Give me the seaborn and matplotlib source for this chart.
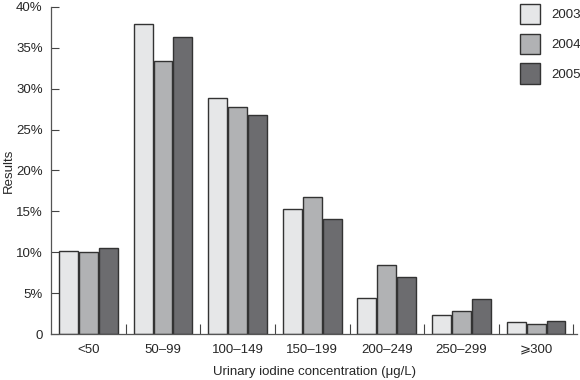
import pandas as pd
import numpy as np
import matplotlib
matplotlib.use("Agg")
import matplotlib.pyplot as plt
import seaborn as sns
from matplotlib.ticker import FixedLocator

# Data (percent of results)
groups = ['<50', '50–99', '100–149', '150–199', '200–249', '250–299', '⩾300']
years = ['2003', '2004', '2005']
vals_2003 = [10.15, 37.9, 28.9, 15.3, 4.4, 2.3, 1.5]
vals_2004 = [10.0, 33.4, 27.8, 16.8, 8.4, 2.8, 1.2]
vals_2005 = [10.5, 36.3, 26.8, 14.1, 7.0, 4.3, 1.6]
colors = ['#e6e7e8', '#b1b2b4', '#6b6c70']

df = pd.DataFrame({
    'group': groups * 3,
    'year': [y for y in years for _ in groups],
    'value': vals_2003 + vals_2004 + vals_2005,
})

sns.set_style("white")
plt.rcParams['font.family'] = ['Liberation Sans', 'DejaVu Sans']

fig = plt.figure(figsize=(5.8, 3.8), dpi=100)
ax = fig.add_axes([0.088, 0.121, 0.907, 0.861])

sns.barplot(data=df, x='group', y='value', hue='year', palette=colors,
            edgecolor='#333333', linewidth=1.0, width=0.8, gap=0.05, ax=ax)

ax.set_xlim(-0.5, 6.55)
ax.set_ylim(0, 40)
ax.set_yticks(np.arange(0, 41, 5))
ax.set_yticklabels(['0'] + [f'{v}%' for v in range(5, 41, 5)], fontsize=9.5)
ax.tick_params(axis='y', left=True, direction='in', length=6, width=0.8,
               color='#444444', pad=6)
ax.tick_params(axis='x', which='major', bottom=False, length=0, labelsize=9.5, pad=7)
ax.xaxis.set_minor_locator(FixedLocator(np.arange(0.5, 7, 1)))
ax.tick_params(axis='x', which='minor', bottom=True, direction='in', length=7,
               width=0.8, color='#444444')

for s in ['top', 'right']:
    ax.spines[s].set_visible(False)
for s in ['left', 'bottom']:
    ax.spines[s].set_color('#555555')
    ax.spines[s].set_linewidth(0.9)

ax.set_xlabel('Urinary iodine concentration (μg/L)', fontsize=9.5)
ax.xaxis.set_label_coords(0.5, -0.097)
ax.set_ylabel('Results', fontsize=9.5, labelpad=4)
ax.yaxis.set_label_coords(-0.068, 0.5)

ax.legend(title=None, frameon=False, loc='upper right', bbox_to_anchor=(1.03, 1.045),
          fontsize=9.5, handlelength=1.5, handleheight=2.0, labelspacing=0.7,
          handletextpad=0.9)

fig.savefig('out.png', dpi=100)
